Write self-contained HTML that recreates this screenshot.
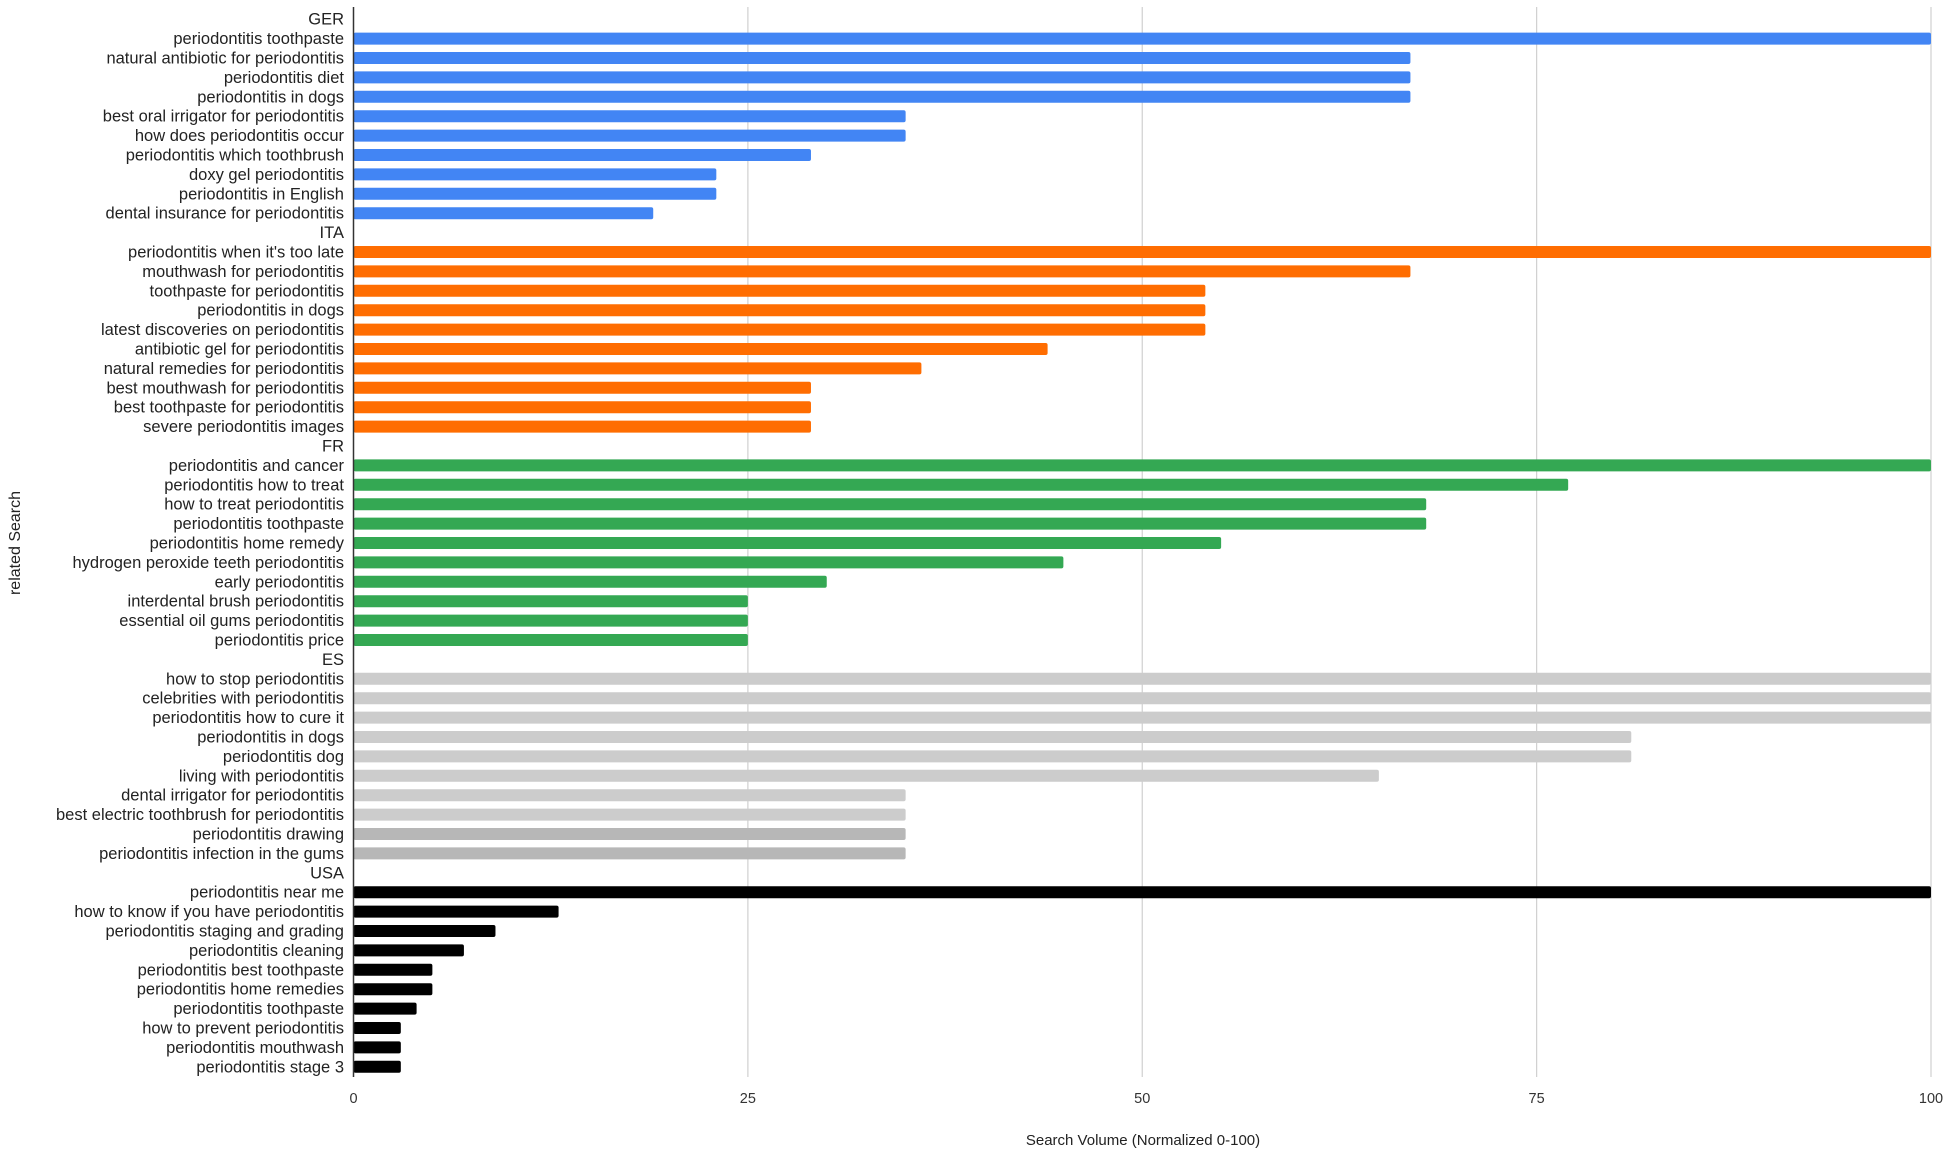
<!DOCTYPE html>
<html><head><meta charset="utf-8">
<style>
html,body{margin:0;padding:0;background:#fff;}
svg{display:block;font-family:"Liberation Sans",Arial,sans-serif;}
</style></head>
<body>
<svg id="chart" width="1950" height="1155" viewBox="0 0 1950 1155">
<g id="grid"></g>
<g id="bars"></g>
<g id="ylabels"></g>
<g id="xlabels"></g>
<line x1="353.5" y1="7" x2="353.5" y2="1077" stroke="#333" stroke-width="1.5"/>
<text x="1143" y="1145" font-size="15" text-anchor="middle" fill="#222">Search Volume (Normalized 0-100)</text>
<text x="0" y="0" font-size="16" text-anchor="middle" fill="#222" transform="translate(20,543) rotate(-90)">related Search</text>
</svg>
<script>
const groups = ["GER","ITA","FR","ES","USA"];
const gerCats = ["periodontitis toothpaste","natural antibiotic for periodontitis","periodontitis diet","periodontitis in dogs","best oral irrigator for periodontitis","how does periodontitis occur","periodontitis which toothbrush","doxy gel periodontitis","periodontitis in English","dental insurance for periodontitis"];
const gerVals = [100,67,67,67,35,35,29,23,23,19];
const itaCats = ["periodontitis when it's too late","mouthwash for periodontitis","toothpaste for periodontitis","periodontitis in dogs","latest discoveries on periodontitis","antibiotic gel for periodontitis","natural remedies for periodontitis","best mouthwash for periodontitis","best toothpaste for periodontitis","severe periodontitis images"];
const itaVals = [100,67,54,54,54,44,36,29,29,29];
const frCats = ["periodontitis and cancer","periodontitis how to treat","how to treat periodontitis","periodontitis toothpaste","periodontitis home remedy","hydrogen peroxide teeth periodontitis","early periodontitis","interdental brush periodontitis","essential oil gums periodontitis","periodontitis price"];
const frVals = [100,77,68,68,55,45,30,25,25,25];
const esCats = ["how to stop periodontitis","celebrities with periodontitis","periodontitis how to cure it","periodontitis in dogs","periodontitis dog","living with periodontitis","dental irrigator for periodontitis","best electric toothbrush for periodontitis","periodontitis drawing","periodontitis infection in the gums"];
const esVals = [100,100,100,81,81,65,35,35,35,35];
const usaCats = ["periodontitis near me","how to know if you have periodontitis","periodontitis staging and grading","periodontitis cleaning","periodontitis best toothpaste","periodontitis home remedies","periodontitis toothpaste","how to prevent periodontitis","periodontitis mouthwash","periodontitis stage 3"];
const usaVals = [100,13,9,7,5,5,4,3,3,3];
const xTicks = [0,25,50,75,100];

const allCats=[gerCats,itaCats,frCats,esCats,usaCats];
const allVals=[gerVals,itaVals,frVals,esVals,usaVals];
const colors=[["#4285f4"],["#ff6d01"],["#34a853"],["#cccccc"],["#000000"]];
const NS="http://www.w3.org/2000/svg";
const X0=353.5,X1=1931,Y0=9.5,ROW=19.4;
const xs=v=>X0+(X1-X0)*v/100;
const ys=i=>Y0+ROW*(i+0.5);
function mk(t,a,p){const e=document.createElementNS(NS,t);for(const k in a)e.setAttribute(k,a[k]);p.appendChild(e);return e;}
const grid=document.getElementById('grid'),bars=document.getElementById('bars'),yl=document.getElementById('ylabels'),xl=document.getElementById('xlabels');
xTicks.forEach(t=>{
  if(t>0){const l=mk('line',{x1:xs(t),x2:xs(t),y1:7,y2:1077,stroke:'#d0d0d0','stroke-width':1.2},grid);
  
  }
  const tx=mk('text',{x:xs(t),y:1103,'font-size':14.5,'text-anchor':'middle',fill:'#333'},xl);
  tx.textContent=t;
  
  
});
let row=0;
groups.forEach((g,gi)=>{
  const gt=mk('text',{x:344,y:ys(row)+5.5,'font-size':16.5,'text-anchor':'end',fill:'#222'},yl);
  gt.textContent=g;
  
  
  row++;
  allCats[gi].forEach((c,ci)=>{
    const v=allVals[gi][ci];
    const t=mk('text',{x:344,y:ys(row)+5.5,'font-size':16.5,'text-anchor':'end',fill:'#222'},yl);
    t.textContent=c;
    
    
    let col=colors[gi][0];
    if(gi===3&&ci>=8)col='#b7b7b7';
    const r=mk('rect',{x:X0,y:ys(row)-6,width:Math.max(0,xs(v)-X0),height:12,rx:2,fill:col},bars);
    
    
    row++;
  });
});
</script>
</body></html>
